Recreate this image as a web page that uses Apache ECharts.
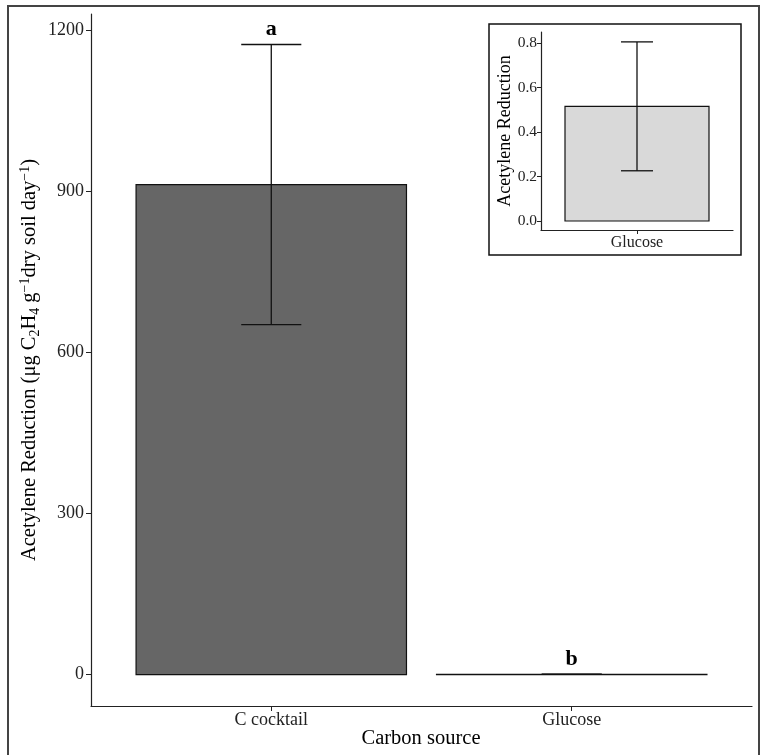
<!DOCTYPE html>
<html>
<head>
<meta charset="utf-8">
<script src="https://cdn.jsdelivr.net/npm/echarts@6/dist/echarts.min.js"></script>
<style>
  html, body { margin: 0; padding: 0; background: #fff; }
  #chart { width: 761px; height: 755px; }
</style>
</head>
<body>
<div id="chart"></div>
<script>
// main panel
const categories = ['C cocktail', 'Glucose']
const means = [913, 0.516]
const errors = [261, 0.29]
const letters = ['a', 'b']
const mainTicks = [0, 300, 600, 900, 1200]

// inset panel
const insetCategories = ['Glucose']
const insetMeans = [0.516]
const insetErrors = [0.29]
const insetTicks = [0, 0.2, 0.4, 0.6, 0.8]

const serif = 'Liberation Serif'

const barItem = (fill) => (params, api) => {
  const x = api.value(0)
  const y = api.value(1)
  const p0 = api.coord([x - 0.45, 0])
  const p1 = api.coord([x + 0.45, y])
  return {
    type: 'rect',
    shape: { x: p0[0], y: p1[1], width: p1[0] - p0[0], height: Math.max(p0[1] - p1[1], 0.5) },
    style: { fill: fill, stroke: '#111', lineWidth: 1.2 }
  }
}

const errorItem = (params, api) => {
  const x = api.value(0)
  const lo = api.coord([x, api.value(1)])
  const hi = api.coord([x, api.value(2)])
  const left = api.coord([x - 0.1, 0])[0]
  const right = api.coord([x + 0.1, 0])[0]
  const st = { stroke: '#111', lineWidth: 1.3 }
  return {
    type: 'group',
    children: [
      { type: 'line', shape: { x1: lo[0], y1: lo[1], x2: hi[0], y2: hi[1] }, style: st },
      { type: 'line', shape: { x1: left, y1: lo[1], x2: right, y2: lo[1] }, style: st },
      { type: 'line', shape: { x1: left, y1: hi[1], x2: right, y2: hi[1] }, style: st }
    ]
  }
}

const letterItem = (params, api) => {
  const p = api.coord([api.value(0), api.value(1)])
  return {
    type: 'text',
    x: p[0],
    y: p[1],
    style: {
      text: letters[params.dataIndex],
      fontFamily: serif,
      fontWeight: 'bold',
      fontSize: 22,
      fill: '#000',
      align: 'center',
      verticalAlign: 'middle'
    }
  }
}

const axisLine = { show: true, onZero: false, lineStyle: { color: '#222', width: 1.2 } }

const option = {
  animation: false,
  backgroundColor: '#fff',
  grid: [
    { left: 91, top: 14, right: 9, bottom: 49 },
    { left: 541, top: 32, right: 28, bottom: 525 }
  ],
  xAxis: [
    {
      type: 'value', gridIndex: 0, min: 0.4, max: 2.6,
      axisLine: axisLine,
      axisTick: { show: true, customValues: [1, 2], length: 5, lineStyle: { color: '#222' } },
      axisLabel: {
        customValues: [1, 2], margin: 5,
        formatter: (v) => categories[Math.round(v) - 1],
        fontFamily: serif, fontSize: 18, color: '#222'
      },
      splitLine: { show: false }
    },
    {
      type: 'value', gridIndex: 1, min: 0.4, max: 1.6,
      axisLine: axisLine,
      axisTick: { show: true, customValues: [1], length: 4, lineStyle: { color: '#222' } },
      axisLabel: {
        customValues: [1], margin: 5,
        formatter: (v) => insetCategories[Math.round(v) - 1],
        fontFamily: serif, fontSize: 16, color: '#222'
      },
      splitLine: { show: false }
    }
  ],
  yAxis: [
    {
      type: 'value', gridIndex: 0, min: -58.6, max: 1230.8,
      axisLine: axisLine,
      axisTick: { show: true, customValues: mainTicks, length: 5, lineStyle: { color: '#222' } },
      axisLabel: {
        customValues: mainTicks, margin: 7,
        formatter: (v) => String(v),
        fontFamily: serif, fontSize: 18, color: '#222'
      },
      splitLine: { show: false }
    },
    {
      type: 'value', gridIndex: 1, min: -0.0405, max: 0.8505,
      axisLine: axisLine,
      axisTick: { show: true, customValues: insetTicks, length: 4, lineStyle: { color: '#222' } },
      axisLabel: {
        customValues: insetTicks, margin: 4,
        formatter: (v) => v.toFixed(1),
        fontFamily: serif, fontSize: 15.5, color: '#222'
      },
      splitLine: { show: false }
    }
  ],
  series: [
    {
      type: 'custom', xAxisIndex: 0, yAxisIndex: 0,
      renderItem: barItem('#666666'),
      data: means.map((m, i) => [i + 1, m])
    },
    {
      type: 'custom', xAxisIndex: 0, yAxisIndex: 0,
      renderItem: errorItem,
      data: means.map((m, i) => [i + 1, m - errors[i], m + errors[i]])
    },
    {
      type: 'custom', xAxisIndex: 0, yAxisIndex: 0,
      renderItem: letterItem,
      data: means.map((m, i) => [i + 1, m + errors[i] + 28])
    },
    {
      type: 'custom', xAxisIndex: 1, yAxisIndex: 1,
      renderItem: barItem('#d9d9d9'),
      data: insetMeans.map((m, i) => [i + 1, m])
    },
    {
      type: 'custom', xAxisIndex: 1, yAxisIndex: 1,
      renderItem: errorItem,
      data: insetMeans.map((m, i) => [i + 1, m - insetErrors[i], m + insetErrors[i]])
    }
  ],
  graphic: [
    {
      type: 'rect', z: -1,
      shape: { x: 8, y: 6, width: 751, height: 760 },
      style: { fill: 'none', stroke: '#444', lineWidth: 2 }
    },
    {
      type: 'rect',
      shape: { x: 489, y: 24, width: 252, height: 231 },
      style: { fill: 'none', stroke: '#111', lineWidth: 1.5 }
    },
    {
      type: 'text', x: 30, y: 360, rotation: Math.PI / 2,
      style: {
        text: 'Acetylene Reduction (μg C{sub|2}H{sub|4} g{sup|−1}dry soil day{sup|−1})',
        fontFamily: serif, fontSize: 20.5, lineHeight: 24, fill: '#000',
        align: 'center', verticalAlign: 'middle',
        rich: {
          sub: { fontFamily: serif, fontSize: 14, lineHeight: 14, verticalAlign: 'bottom', fill: '#000' },
          sup: { fontFamily: serif, fontSize: 14, lineHeight: 14, verticalAlign: 'top', fill: '#000' }
        }
      }
    },
    {
      type: 'text', x: 421, y: 739,
      style: {
        text: 'Carbon source', fontFamily: serif, fontSize: 20.5, fill: '#000',
        align: 'center', verticalAlign: 'middle'
      }
    },
    {
      type: 'text', x: 505, y: 131, rotation: Math.PI / 2,
      style: {
        text: 'Acetylene Reduction', fontFamily: serif, fontSize: 18, fill: '#000',
        align: 'center', verticalAlign: 'middle'
      }
    }
  ]
}

const chart = echarts.init(document.getElementById('chart'))
chart.setOption(option)
</script>
</body>
</html>
